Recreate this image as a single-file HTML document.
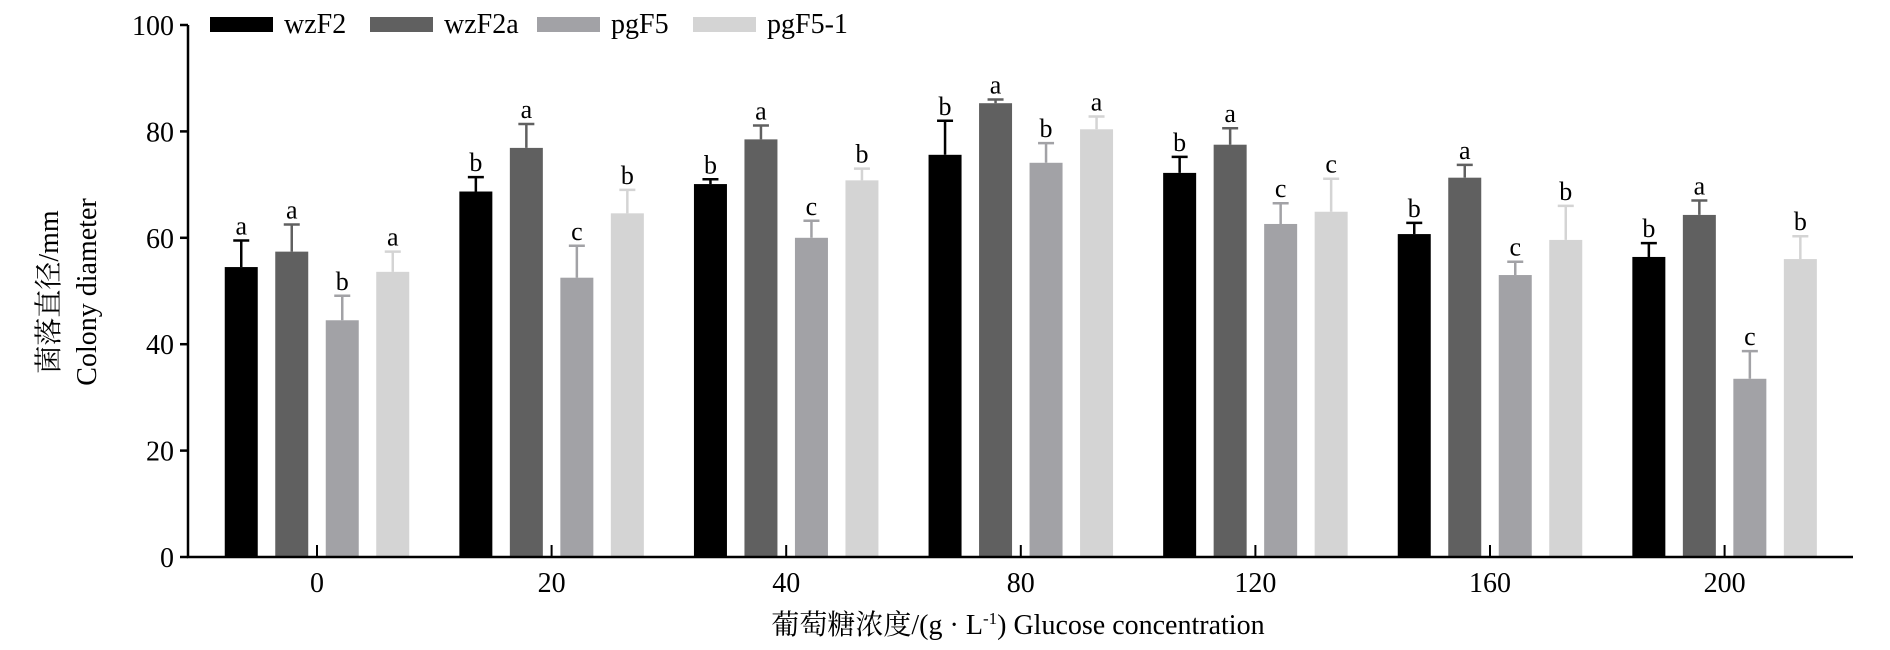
<!DOCTYPE html>
<html><head><meta charset="utf-8"><style>
body{margin:0;background:#fff;}
svg{display:block;font-family:"Liberation Serif","Noto Serif CJK SC",serif;}
</style></head><body>
<svg id="chart" width="1890" height="650" xmlns="http://www.w3.org/2000/svg"></svg>
<script>
const categories = ["0","20","40","80","120","160","200"];
const seriesNames = ["wzF2","wzF2a","pgF5","pgF5-1"];
const seriesColors = ["#000000","#606060","#a2a2a6","#d4d4d4"];
const wzF2 = [54.5,68.7,70.1,75.6,72.2,60.7,56.4];
const wzF2a = [57.4,76.9,78.5,85.3,77.5,71.3,64.3];
const pgF5 = [44.5,52.5,60.0,74.1,62.6,53.0,33.5];
const pgF51 = [53.6,64.6,70.8,80.4,64.9,59.6,56.0];
const wzF2Err = [5.0,2.7,0.9,6.4,3.0,2.1,2.6];
const wzF2aErr = [5.1,4.5,2.6,0.7,3.1,2.4,2.7];
const pgF5Err = [4.6,6.0,3.2,3.7,3.9,2.5,5.2];
const pgF51Err = [3.8,4.4,2.2,2.4,6.2,6.4,4.3];
const wzF2Letters = ["a","b","b","b","b","b","b"];
const wzF2aLetters = ["a","a","a","a","a","a","a"];
const pgF5Letters = ["b","c","c","b","c","c","c"];
const pgF51Letters = ["a","b","b","a","c","b","b"];
const yTicks = [0,20,40,60,80,100];

const series=[wzF2,wzF2a,pgF5,pgF51];
const errs=[wzF2Err,wzF2aErr,pgF5Err,pgF51Err];
const letters=[wzF2Letters,wzF2aLetters,pgF5Letters,pgF51Letters];
const svg=document.getElementById('chart');
const NS='http://www.w3.org/2000/svg';
const X0=188,X1=1853,Y0=557,Y100=25;
const y=v=>Y0-(v/100)*(Y0-Y100);
const x=i=>317+i*234.6;
function mk(t,a,p){const e=document.createElementNS(NS,t);for(const k in a)e.setAttribute(k,a[k]);(p||svg).appendChild(e);return e;}

series.forEach((vals,s)=>{
  vals.forEach((v,i)=>{
    const cx=x(i)+(s-1.5)*50.5;
    const r=mk('rect',{x:cx-16.5,y:y(v),width:33,height:Y0-y(v),fill:seriesColors[s]});
    
    
    const top=y(v+errs[s][i]);
    const eb=mk('path',{d:`M${cx} ${y(v)}V${top}M${cx-8} ${top}H${cx+8}`,stroke:seriesColors[s],'stroke-width':2.5,fill:'none'});
    
    
    const t=mk('text',{x:cx,y:top-6,'text-anchor':'middle','font-size':26});
    t.textContent=letters[s][i];
    
    
  });
});

const ax=mk('path',{d:`M${X0} ${Y100}V${Y0}H${X1}`,stroke:'#000','stroke-width':2.5,fill:'none'});


yTicks.forEach(v=>{
  const tk=mk('line',{x1:X0-8,x2:X0,y1:y(v),y2:y(v),stroke:'#000','stroke-width':2.5});
  
  
  const t=mk('text',{x:X0-14,y:y(v)+10,'text-anchor':'end','font-size':28});
  t.textContent=v;
  
  
});
categories.forEach((c,i)=>{
  const tk=mk('line',{x1:x(i),x2:x(i),y1:Y0,y2:Y0-12,stroke:'#000','stroke-width':2});
  
  
  const t=mk('text',{x:x(i),y:592,'text-anchor':'middle','font-size':28});
  t.textContent=c;
  
  
});
const legX=[210,370,537,693];
seriesNames.forEach((n,s)=>{
  const r=mk('rect',{x:legX[s],y:17,width:63,height:15,fill:seriesColors[s]});
  
  
  const t=mk('text',{x:legX[s]+74,y:33,'font-size':28});
  t.textContent=n;
  
  
});
</script>
<svg style="position:absolute;left:0;top:0" width="1890" height="650" xmlns="http://www.w3.org/2000/svg" font-family="Liberation Serif, Noto Serif CJK SC, serif">
<g transform="translate(0,292) rotate(-90)">
<text x="0" y="58" text-anchor="middle" font-size="28">菌落直径/mm</text>
<text x="0" y="96" text-anchor="middle" font-size="28">Colony diameter</text>
</g>
<text x="1018" y="634" text-anchor="middle" font-size="28">葡萄糖浓度/(g · L<tspan font-size="17" dy="-10">-1</tspan><tspan dy="10">) Glucose concentration</tspan></text>
</svg>
</body></html>
